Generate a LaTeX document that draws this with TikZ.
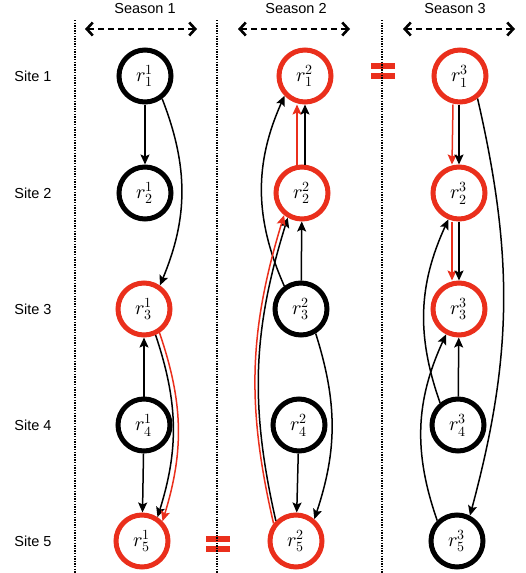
\documentclass[tikz,border=0pt]{standalone}
\usepackage{fontspec}
\usepackage{unicode-math}
\newfontfamily\labelfont{Liberation Sans}
\usetikzlibrary{arrows.meta}
\definecolor{hotred}{RGB}{234,47,28}

\begin{document}
\begin{tikzpicture}[x=1pt, y=-1pt,
    ring/.style={circle, draw, line width=5pt, minimum size=52pt, inner sep=0pt, font=\fontsize{20}{22}\selectfont},
    hotring/.style={ring, draw=hotred},
    flow/.style={line width=1.5pt, -{Stealth[length=10pt, width=9pt, inset=2pt]}},
    hotflow/.style={flow, draw=hotred},
    span/.style={line width=2.6pt, dash pattern=on 6pt off 4pt, {Straight Barb[length=6pt, width=13pt]}-{Straight Barb[length=6pt, width=13pt]}},
    divider/.style={line width=1.3pt, dash pattern=on 1.3pt off 1.3pt},
    tag/.style={font=\labelfont\fontsize{14.5}{17}\selectfont}]

    %% Sites over three seasons

    \newcommand{\equalmark}[2]{
        \fill[hotred] (#1-12,#2-8) rectangle ++(24,6);
        \fill[hotred] (#1-12,#2+2) rectangle ++(24,6);
    }

    \useasboundingbox (0,0) rectangle (526,573);

    % Headers
    \foreach \s/\x/\a/\b in {1/145/85/197, 2/296/238/350, 3/455/403/515} {
        \node[tag] (season\s) at (\x,9) {Season \s};
        \coordinate (spanL\s) at (\a,29);
        \coordinate (spanR\s) at (\b,29);
        \draw[span] (spanL\s) -- (spanR\s);
    }
    \foreach \k/\y in {1/76, 2/193, 3/309, 4/425, 5/541}
        \node[tag] (site\k) at (33,\y) {Site \k};

    % Equal marks and dividers
    \equalmark{383}{71}
    \equalmark{218}{544}
    \foreach \x in {75, 217, 382}
        \draw[divider] (\x,20) -- (\x,573);

    % Season 1
    \node[ring]    (r11) at (145,76)  {$r_1^1$};
    \node[ring]    (r21) at (145,193) {$r_2^1$};
    \node[hotring] (r31) at (144,309) {$r_3^1$};
    \node[ring]    (r41) at (144,425) {$r_4^1$};
    \node[hotring] (r51) at (142,541) {$r_5^1$};

    \draw[flow] (r11) -- (r21);
    \draw[flow] (r11.-53) to[bend left=22] (r31.56);
    \draw[flow] (r41) -- (r31);
    \draw[flow] (r41) -- (r51);
    \draw[flow] (r31.-66) to[bend left=18] (r51.57);
    \draw[hotflow] (r31.-57) to[bend left=18] (r51.44);

    % Season 2
    \node[hotring] (r12) at (305,76)  {$r_1^2$};
    \node[hotring] (r22) at (302,193) {$r_2^2$};
    \node[ring]    (r32) at (301,309) {$r_3^2$};
    \node[ring]    (r42) at (299,425) {$r_4^2$};
    \node[hotring] (r52) at (296,541) {$r_5^2$};

    \draw[hotflow] ([xshift=-5pt]r22.north) -- ([xshift=-8pt]r12.south);
    \draw[flow] ([xshift=3pt]r22.north) -- (r12.south);
    \draw[flow] (r32) -- (r22);
    \draw[flow] (r32.126) to[bend left=24] (r12.224);
    \draw[flow] (r52.135) to[bend left=15] (r22.240);
    \draw[hotflow] (r52.142) to[bend left=15] (r22.231);
    \draw[flow] (r42) -- (r52);
    \draw[flow] (r32.-59) to[bend left=18] (r52.50);

    % Season 3
    \node[hotring] (r13) at (460,76)  {$r_1^3$};
    \node[hotring] (r23) at (459,193) {$r_2^3$};
    \node[hotring] (r33) at (459,309) {$r_3^3$};
    \node[ring]    (r43) at (458,425) {$r_4^3$};
    \node[ring]    (r53) at (457,541) {$r_5^3$};

    \draw[hotflow] ([xshift=-7pt]r13.south) -- ([xshift=-7pt]r23.north);
    \draw[flow] ([xshift=-1pt]r13.south) -- (r23.north);
    \draw[hotflow] ([xshift=-7pt]r23.south) -- ([xshift=-7pt]r33.north);
    \draw[flow] (r23.south) -- (r33.north);
    \draw[flow] (r43) -- (r33);
    \draw[flow] (r43.129) to[bend left=22] (r23.248);
    \draw[flow] (r53.134) to[bend left=22] (r33.243);
    \draw[flow] (r13.-52) to[bend left=14] (r53.63);

\end{tikzpicture}
\end{document}
